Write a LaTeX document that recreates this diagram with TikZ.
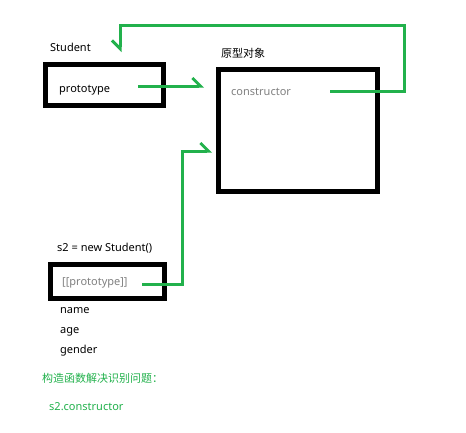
\documentclass[tikz,border=0pt]{standalone}
\usepackage{fontspec}
\setmainfont{Noto Sans}
\newfontfamily\cjk{Noto Sans CJK SC}
\usetikzlibrary{arrows.meta}
\definecolor{paintgreen}{RGB}{34,177,76}
\definecolor{slotgray}{RGB}{128,128,128}
\begin{document}
\begin{tikzpicture}[x=1pt,y=-1pt,
   objbox/.style={draw,line width=5pt,inner sep=0pt},
   lbl/.style={anchor=base west,inner sep=0pt,font=\fontsize{11}{13}\selectfont},
   link/.style={paintgreen,line width=3pt},
   barbl/.style={-{Straight Barb[left,length=8pt,width=16pt,line width=3pt]}},
   barbr/.style={-{Straight Barb[right,length=8pt,width=16pt,line width=3pt]}}]
   \useasboundingbox (0,0) rectangle (466,432);
   \node[objbox,minimum width=118pt,minimum height=41pt] (sbox) at (104.5,85) {};
   \node[objbox,minimum width=159pt,minimum height=122pt] (pbox) at (298,130.5) {};
   \node[objbox,minimum width=114pt,minimum height=34pt] (s2box) at (107.5,281.5) {};
   \node[lbl] (sname) at (50,51) {Student};
   \node[lbl] (ptext) at (59,92) {prototype};
   \node[lbl,font=\cjk\fontsize{11}{13}\selectfont] (pname) at (221,57) {原型对象};
   \node[lbl,slotgray] (ctext) at (231,95) {constructor};
   \node[lbl] (s2name) at (57,251) {s2 = new Student()};
   \node[lbl,slotgray] (slot) at (62,285) {[[prototype]]};
   \node[lbl] (fname) at (60,313) {name};
   \node[lbl] (fage) at (60,333) {age};
   \node[lbl] (fgender) at (60,353) {gender};
   \node[lbl,paintgreen,font=\cjk\fontsize{11}{13}\selectfont] (note) at (42,382) {构造函数解决识别问题：};
   \node[lbl,paintgreen] (noteb) at (49,410) {s2.constructor};
   \coordinate (pOut) at (138,86);
   \coordinate (cOut) at (330,91);
   \coordinate (loopR) at (404,25);
   \coordinate (sTip) at (120,52);
   \coordinate (kOut) at (142,284);
   \coordinate (kBend) at (182,151);
   \draw[link,barbl] (pOut) -- ([xshift=-12pt]pOut -| pbox.west);
   \draw[link,barbr] (cOut) -| (loopR) -| (sTip);
   \draw[link,barbl] (kOut) -| (kBend) -- ([xshift=-4pt]kBend -| pbox.west);
\end{tikzpicture}
\end{document}
